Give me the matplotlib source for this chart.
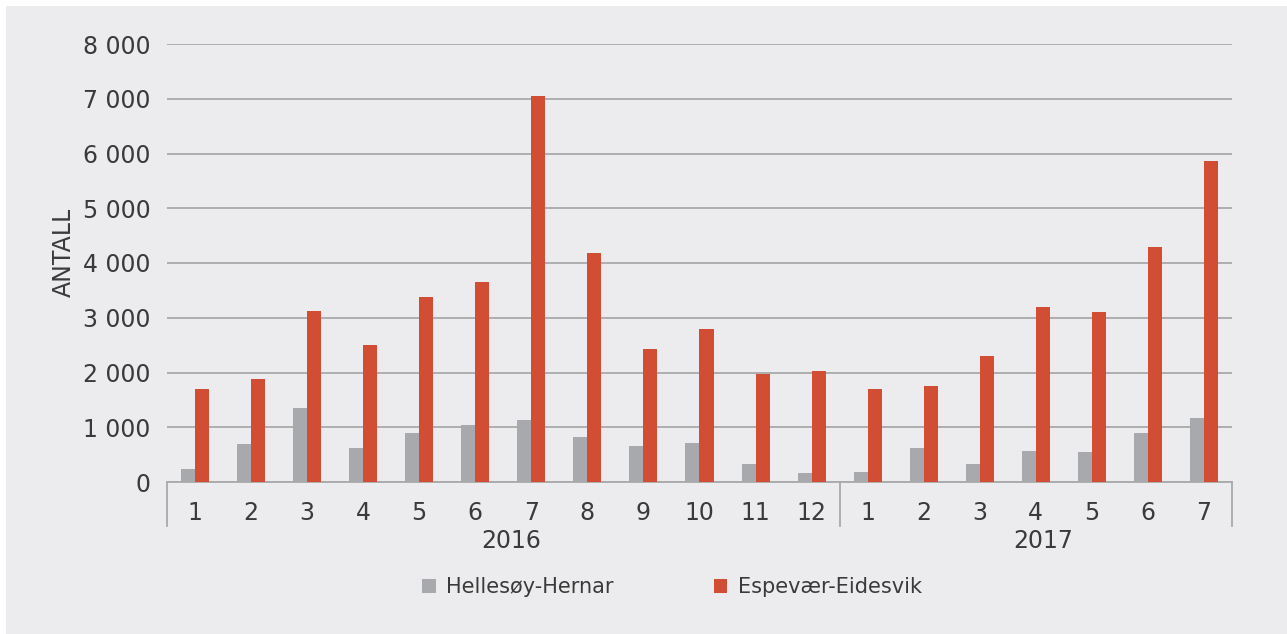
import numpy as np
import matplotlib
matplotlib.use('Agg')
import matplotlib.pyplot as plt
from matplotlib.patches import Rectangle, Patch

# data
months = ['1', '2', '3', '4', '5', '6', '7', '8', '9', '10', '11', '12',
          '1', '2', '3', '4', '5', '6', '7']
years = ['2016', '2017']
hellesoy = [240, 690, 1360, 630, 890, 1050, 1140, 830, 650, 720, 320, 165,
            185, 615, 330, 575, 545, 890, 1165]
espevaer = [1695, 1880, 3120, 2500, 3380, 3645, 7045, 4190, 2425, 2800, 1975, 2030,
            1690, 1745, 2300, 3190, 3100, 4300, 5870]

bg = '#ECECEE'
c_gray = '#A8A9AC'
c_red = '#D14D33'
c_grid = '#A9A9A9'
c_text = '#3A3A3A'

fig = plt.figure(figsize=(12.87, 6.34), dpi=100)
fig.patch.set_facecolor('white')
fig.patches.append(Rectangle((6 / 1287, 0), 1, 1 - 6 / 634, transform=fig.transFigure,
                             facecolor=bg, edgecolor='none', zorder=-10))

ax = fig.add_axes([167 / 1287, 1 - 482 / 634, (1232 - 167) / 1287, (482 - 44) / 634])
ax.set_facecolor(bg)

x = np.arange(len(months))
w = 0.25
ax.bar(x - w / 2, hellesoy, width=w, color=c_gray, zorder=3)
ax.bar(x + w / 2, espevaer, width=w, color=c_red, zorder=3)

ax.set_xlim(-0.5, len(months) - 0.5)
ax.set_ylim(0, 8000)
ax.set_yticks(range(0, 8001, 1000))
ax.set_yticklabels([f'{v:,}'.replace(',', ' ') for v in range(0, 8001, 1000)])
ax.yaxis.grid(True, color=c_grid, linewidth=1.3)
ax.set_axisbelow(True)

ax.set_xticks(x)
ax.set_xticklabels(months)
ax.tick_params(axis='x', length=0, pad=14, labelsize=17, colors=c_text)
ax.tick_params(axis='y', length=0, pad=12, labelsize=17, colors=c_text)

for s in ['top', 'right', 'left']:
    ax.spines[s].set_visible(False)
ax.spines['bottom'].set_color(c_grid)
ax.spines['bottom'].set_linewidth(1.3)

ax.set_ylabel('ANTALL', fontsize=17, color=c_text)
ax.yaxis.set_label_coords(-0.086, 0.525)

# group separators and year labels
trans = ax.get_xaxis_transform()
for xs in [-0.5, 11.5, 18.5]:
    ax.plot([xs, xs], [0, -0.1], transform=trans, color=c_grid, linewidth=1.3,
            clip_on=False)
ax.text(5.64, -0.135, years[0], transform=trans, ha='center', va='center',
        fontsize=17, color=c_text)
ax.text(15.14, -0.135, years[1], transform=trans, ha='center', va='center',
        fontsize=17, color=c_text)

handles = [Patch(facecolor=c_gray, label='Hellesøy-Hernar'),
           Patch(facecolor=c_red, label='Espevær-Eidesvik')]
fig.legend(handles=handles, loc='center', bbox_to_anchor=(672 / 1287, 1 - 587 / 634),
           ncol=2, frameon=False, fontsize=15, handlelength=0.65, handleheight=0.65,
           handletextpad=0.5, columnspacing=4.8, labelcolor=c_text)

fig.savefig('out.png', dpi=100, facecolor=fig.get_facecolor())
